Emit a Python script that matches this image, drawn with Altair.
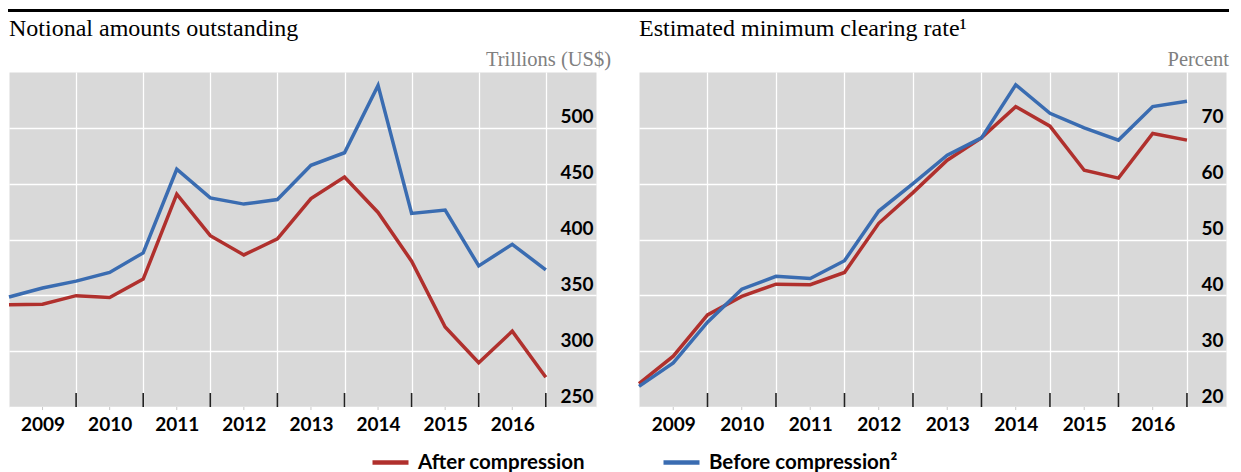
import altair as alt
import pandas as pd

# ---------------- data ----------------
periods = ["H2 2008", "H1 2009", "H2 2009", "H1 2010", "H2 2010", "H1 2011", "H2 2011",
           "H1 2012", "H2 2012", "H1 2013", "H2 2013", "H1 2014", "H2 2014", "H1 2015",
           "H2 2015", "H1 2016", "H2 2016"]

notional_after = [341.6, 342.0, 349.7, 348.0, 364.5, 440.6, 403.4, 386.2, 400.5,
                  436.7, 456.0, 424.2, 380.6, 321.7, 289.6, 317.9, 276.6]
notional_before = [348.5, 356.5, 362.7, 370.5, 388.0, 462.9, 437.3, 431.7, 435.8,
                   466.4, 477.7, 538.0, 423.4, 426.3, 376.4, 395.7, 372.8]

clearing_after = [24.2, 29.1, 36.5, 39.8, 42.0, 41.9, 44.1, 52.9, 58.4,
                  64.2, 68.2, 73.8, 70.3, 62.4, 61.0, 69.0, 67.8]
clearing_before = [23.7, 27.9, 35.2, 41.1, 43.4, 43.0, 46.2, 55.1, 60.0,
                   65.1, 68.2, 77.7, 72.6, 70.0, 67.8, 73.8, 74.75]

notional_ticks = [250, 300, 350, 400, 450, 500]
clearing_ticks = [20, 30, 40, 50, 60, 70]

AFTER = "After compression"
BEFORE = "Before compression\u00b2"
left_title = "Notional amounts outstanding"
right_title = "Estimated minimum clearing rate\u00b9"
left_units = "Trillions (US$)"
right_units = "Percent"

# ---------------- helpers ----------------
def period_pos(p):
    half, year = p.split()
    return int(year) + (0.5 if half == "H2" else 0.0)

pos = [period_pos(p) for p in periods]
year_ends = [period_pos(p) for p in periods if p.startswith("H2") and p != "H2 2008"]
year_mids = [period_pos(p) for p in periods if p.startswith("H1")]

RED = "#B0302D"
BLUE = "#3A6CB1"
SANS = "Lato"
SERIF = "Liberation Serif"
W = 587
H = 335


def panel(after, before, ydom, yvals, xmax, title, units, units_x, rule_x, rule_x2, shift):
    df = pd.DataFrame({
        "x": pos + pos,
        "value": after + before,
        "series": [AFTER] * len(pos) + [BEFORE] * len(pos),
    })
    xscale = alt.Scale(domain=[2008.5, xmax], nice=False, zero=False)
    yscale = alt.Scale(domain=ydom, nice=False, zero=False)
    xaxis = alt.Axis(values=year_ends, grid=True, gridColor="white", gridWidth=1.3,
                     ticks=False, tickSize=0, domain=False, title=None,
                     labelExpr="format(floor(datum.value), 'd')",
                     labelOffset=shift, labelFont=SANS, labelFontSize=19,
                     labelFontWeight="bold", labelColor="black",
                     labelBaseline="middle", labelPadding=17,
                     labelFlush=False, labelOverlap=False, labelBound=False)

    lines = alt.Chart(df).mark_line(strokeWidth=3.5).encode(
        x=alt.X("x:Q", scale=xscale, axis=xaxis),
        y=alt.Y("value:Q", scale=yscale,
                axis=alt.Axis(orient="right", values=yvals, grid=True, gridColor="white",
                              gridWidth=1.3, ticks=False, tickSize=0, domain=False,
                              title=None, labelAlign="right", labelBaseline="alphabetic",
                              labelPadding=-3, labelOffset=-5, labelFont=SANS,
                              labelFontSize=19, labelFontWeight="bold", labelColor="black",
                              labelFlush=False, labelOverlap=False)),
        color=alt.Color("series:N",
                        scale=alt.Scale(domain=[AFTER, BEFORE], range=[RED, BLUE]),
                        legend=alt.Legend(orient="none", legendX=361, legendY=370,
                                          direction="horizontal", title=None,
                                          symbolType="stroke", symbolSize=1296,
                                          symbolStrokeWidth=4.5, labelFont=SANS,
                                          labelFontSize=20.5, labelFontWeight="bold",
                                          labelColor="black", labelOffset=7,
                                          labelLimit=400,
                                          columnPadding=69, padding=0)),
    )

    ticks = alt.Chart(pd.DataFrame({"x": year_ends})).mark_rule(
        color="#222222", strokeWidth=1.6
    ).encode(
        x=alt.X("x:Q", scale=xscale, axis=xaxis),
        y=alt.value(H - 14),
        y2=alt.value(H),
    )

    minor = alt.Chart(pd.DataFrame({"x": year_mids})).mark_rule(
        color="#C8C8C8", strokeWidth=1
    ).encode(
        x=alt.X("x:Q", scale=xscale, axis=xaxis),
        y=alt.value(H),
        y2=alt.value(H + 3),
    )

    title_layer = alt.Chart(pd.DataFrame({"t": [title]})).mark_text(
        align="left", baseline="alphabetic", font=SERIF, fontSize=24, color="black"
    ).encode(text="t:N", x=alt.value(0), y=alt.value(-36))

    units_layer = alt.Chart(pd.DataFrame({"t": [units]})).mark_text(
        align="right", baseline="alphabetic", font=SERIF, fontSize=20.5, color="#808080"
    ).encode(text="t:N", x=alt.value(units_x), y=alt.value(-6))

    top_rule = alt.Chart(pd.DataFrame({"t": [0]})).mark_rule(
        color="black", strokeWidth=3
    ).encode(x=alt.value(rule_x), x2=alt.value(rule_x2), y=alt.value(-61.5))

    return alt.layer(lines, ticks, minor, title_layer, units_layer, top_rule).properties(
        width=W, height=H
    )


left = panel(notional_after, notional_before, [250, 550], notional_ticks, 2017.248,
             left_title, left_units, W + 15, -2, W + 43, -33.55)
right = panel(clearing_after, clearing_before, [20, 80], clearing_ticks, 2017.07,
              right_title, right_units, W + 3, 0, W + 3, -34.25)

chart = alt.hconcat(left, right).properties(
    spacing=43, bounds="flush",
    padding={"left": -7, "top": 0, "right": 0, "bottom": 0}
).configure_view(
    fill="#D9D9D9", stroke="transparent"
)

chart.save("out.html", embed_options={"renderer": "svg", "actions": False})
